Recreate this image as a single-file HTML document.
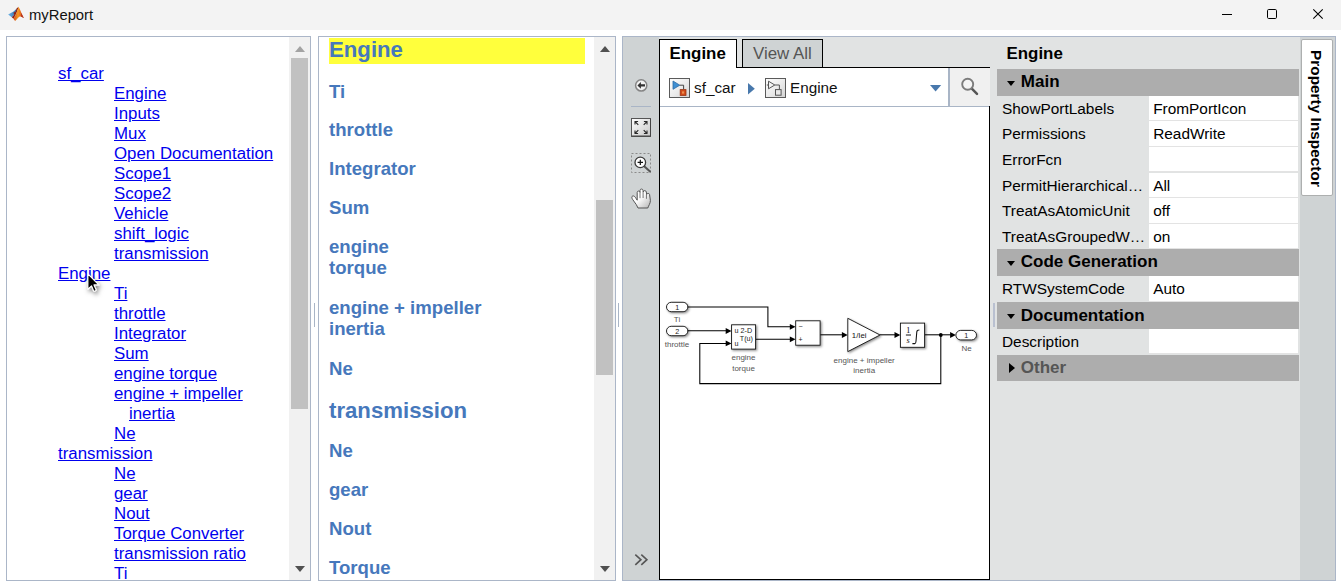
<!DOCTYPE html>
<html lang="en">
<head>
<meta charset="utf-8">
<title>myReport</title>
<style>
html,body{margin:0;padding:0;}
body{width:1341px;height:585px;overflow:hidden;background:#fff;position:relative;
  font-family:"Liberation Sans",sans-serif;color:#000;}
.abs{position:absolute;}
#titlebar{left:0;top:0;width:1341px;height:30px;background:#f3f3f3;}
#title{left:29px;top:5px;font-size:14.8px;line-height:20px;color:#111;white-space:nowrap;}
.panel{box-sizing:border-box;border:1px solid #abb6c8;background:#fff;overflow:hidden;}
#left{left:6px;top:36px;width:305px;height:545px;}
#mid{left:318px;top:36px;width:298px;height:545px;}
#right{left:622px;top:36px;width:714px;height:545px;background:#e1e3e3;}
.track{position:absolute;top:0;width:21px;height:543px;background:#f1f1f1;}
.thumb{position:absolute;left:2px;width:17px;background:#c1c1c1;}
.arr{position:absolute;left:5.6px;width:0;height:0;border-left:5.5px solid transparent;border-right:5.5px solid transparent;}
.arr.up{top:8.8px;border-bottom:6px solid #505050;}
.arr.dn{bottom:8.3px;border-top:6px solid #505050;}
/* left toc */
#toc{position:absolute;left:0;top:27.4px;font-size:16.85px;line-height:20px;white-space:nowrap;}
#toc div{height:20px;}
#toc a{color:#0000ee;text-decoration:underline;}
#toc .l1{padding-left:51px;}
#toc .l2{padding-left:107px;}
#toc .l3{padding-left:122px;}
/* mid headings */
#mid .h{position:absolute;left:10px;color:#4678bc;font-weight:bold;white-space:nowrap;}
#mid .h1{font-size:22.2px;line-height:26px;}
#mid .h3{font-size:18.6px;line-height:21.25px;}
.split{position:absolute;width:1px;height:24px;top:303px;background:#a9b5c6;}

/* right panel: coordinates relative to panel padding box (page x-623, y-37) */
#tools{left:0;top:0;width:36px;height:543px;background:#cfd3d4;}
#canvas{left:36px;top:30px;width:331px;height:513px;box-sizing:border-box;border:1px solid #000;background:#fff;}
.tab{box-sizing:border-box;border:1px solid #000;border-bottom:none;font-size:16.9px;line-height:20px;white-space:nowrap;}
#tab1{left:36px;top:2px;width:78px;height:29px;background:#fff;font-weight:bold;color:#000;padding:4px 0 0 9.5px;}
#tab2{left:119px;top:2px;width:81px;height:28px;background:#cfd3d4;color:#555;padding:4px 0 0 10px;}
#crumb{left:37px;top:31px;width:329px;height:38px;border-bottom:1px solid #a9b5c6;background:#fff;}
#crumb .t{position:absolute;font-size:15.3px;line-height:20px;top:9.5px;color:#111;white-space:nowrap;}
.ico{position:absolute;box-sizing:border-box;border:1px solid #5a5a5a;background:linear-gradient(135deg,#fdfdfd 0%,#ececec 50%,#d4d4d4 100%);}
#searchbtn{left:288px;top:0;width:40px;height:38px;background:#f0f0f0;border-left:2px solid #a9b5c6;box-sizing:content-box;}
/* inspector */
#insp{left:367px;top:0;width:310px;height:543px;background:#e1e3e3;}
#insp .ttl{position:absolute;left:16.5px;top:6.5px;font-size:16.9px;line-height:20px;font-weight:bold;}
#insp .hd{position:absolute;left:7px;width:302px;height:26.7px;background:#adadad;font-weight:bold;font-size:17px;line-height:26.7px;white-space:nowrap;}
#insp .hd span{position:absolute;left:23.8px;top:0px;}
#insp .hd i{position:absolute;left:9.8px;top:11.5px;width:0;height:0;border-left:4.7px solid transparent;border-right:4.7px solid transparent;border-top:5.1px solid #000;}
#insp .hd i.r{left:11.8px;top:8.3px;border-top:5px solid transparent;border-bottom:5px solid transparent;border-left:6px solid #000;border-right:none;}
#insp .row{position:absolute;left:7px;width:301px;height:25.6px;font-size:15.4px;line-height:25.6px;white-space:nowrap;}
#insp .row .k{position:absolute;left:5px;top:0;}
#insp .row .v{position:absolute;left:152px;top:0;width:149px;height:25.6px;background:#fff;box-sizing:border-box;border-bottom:1px solid #e3e3e3;padding-left:4.2px;}
#vstrip{left:677px;top:0;width:35px;height:543px;background:#cfd3d4;}
#vtab{left:1px;top:2px;width:32px;height:157px;box-sizing:border-box;border:1px solid #adafaf;border-radius:2px;background:#fff;}
#vtab span{position:absolute;left:0;top:0;writing-mode:vertical-rl;font-weight:bold;font-size:15.3px;line-height:29px;width:29px;left:0px;padding-top:9.5px;letter-spacing:0.05px;white-space:nowrap;}
</style>
</head>
<body>
<div id="titlebar" class="abs"></div>
<div id="title" class="abs">myReport</div>

<!-- LEFT PANEL -->
<div id="left" class="abs panel">
  <div id="toc">
    <div class="l1"><a href="#">sf_car</a></div>
    <div class="l2"><a href="#">Engine</a></div>
    <div class="l2"><a href="#">Inputs</a></div>
    <div class="l2"><a href="#">Mux</a></div>
    <div class="l2"><a href="#">Open Documentation</a></div>
    <div class="l2"><a href="#">Scope1</a></div>
    <div class="l2"><a href="#">Scope2</a></div>
    <div class="l2"><a href="#">Vehicle</a></div>
    <div class="l2"><a href="#">shift_logic</a></div>
    <div class="l2"><a href="#">transmission</a></div>
    <div class="l1"><a href="#">Engine</a></div>
    <div class="l2"><a href="#">Ti</a></div>
    <div class="l2"><a href="#">throttle</a></div>
    <div class="l2"><a href="#">Integrator</a></div>
    <div class="l2"><a href="#">Sum</a></div>
    <div class="l2"><a href="#">engine torque</a></div>
    <div class="l2"><a href="#">engine + impeller</a></div>
    <div class="l3"><a href="#">inertia</a></div>
    <div class="l2"><a href="#">Ne</a></div>
    <div class="l1"><a href="#">transmission</a></div>
    <div class="l2"><a href="#">Ne</a></div>
    <div class="l2"><a href="#">gear</a></div>
    <div class="l2"><a href="#">Nout</a></div>
    <div class="l2"><a href="#">Torque Converter</a></div>
    <div class="l2"><a href="#">transmission ratio</a></div>
    <div class="l2"><a href="#">Ti</a></div>
  </div>
  <div class="track" style="left:282px;">
    <div class="arr up" style="border-bottom-color:#a3a3a3;"></div>
    <div class="thumb" style="top:21px;height:351px;"></div>
    <div class="arr dn"></div>
  </div>
</div>

<!-- MIDDLE PANEL -->
<div id="mid" class="abs panel">
  <div class="abs" style="left:10px;top:1px;width:256px;height:26px;background:#ffff3c;"></div>
  <div class="h h1" style="top:0.4px;">Engine</div>
  <div class="h h3" style="top:44.3px;">Ti</div>
  <div class="h h3" style="top:82px;">throttle</div>
  <div class="h h3" style="top:120.7px;">Integrator</div>
  <div class="h h3" style="top:160.4px;">Sum</div>
  <div class="h h3" style="top:199.1px;">engine<br>torque</div>
  <div class="h h3" style="top:260px;">engine + impeller<br>inertia</div>
  <div class="h h3" style="top:321.4px;">Ne</div>
  <div class="h h1" style="top:360.6px;">transmission</div>
  <div class="h h3" style="top:403px;">Ne</div>
  <div class="h h3" style="top:442px;">gear</div>
  <div class="h h3" style="top:481px;">Nout</div>
  <div class="h h3" style="top:520px;">Torque</div>
  <div class="track" style="left:275px;">
    <div class="arr up"></div>
    <div class="thumb" style="top:163px;height:175px;"></div>
    <div class="arr dn"></div>
  </div>
</div>

<div class="split" style="left:314px;"></div>
<div class="split" style="left:618px;"></div>
<div class="split" style="left:993px;top:303px;width:2px;background:#b9c0d0;z-index:5;"></div>

<!-- RIGHT PANEL -->
<div id="right" class="abs panel">
  <div id="tools" class="abs"></div>
  <div id="canvas" class="abs"></div>
  <div id="tab1" class="abs tab">Engine</div>
  <div id="tab2" class="abs tab">View All</div>
  <div id="crumb" class="abs">
    <div class="ico" style="left:9px;top:10px;width:21px;height:20px;"></div>
    <div class="t" style="left:34px;">sf_car</div>
    <div class="ico" style="left:105px;top:10px;width:21px;height:20px;"></div>
    <div class="t" style="left:130px;">Engine</div>
    <div id="searchbtn" class="abs"></div>
  </div>
  <div id="insp" class="abs">
    <div class="ttl">Engine</div>
    <div class="hd" style="top:32px;"><i></i><span>Main</span></div>
    <div class="row" style="top:58.7px;"><div class="k">ShowPortLabels</div><div class="v">FromPortIcon</div></div>
    <div class="row" style="top:84.3px;"><div class="k">Permissions</div><div class="v">ReadWrite</div></div>
    <div class="row" style="top:109.9px;"><div class="k">ErrorFcn</div><div class="v"></div></div>
    <div class="row" style="top:135.5px;"><div class="k">PermitHierarchical…</div><div class="v">All</div></div>
    <div class="row" style="top:161.1px;"><div class="k">TreatAsAtomicUnit</div><div class="v">off</div></div>
    <div class="row" style="top:186.7px;"><div class="k">TreatAsGroupedW…</div><div class="v">on</div></div>
    <div class="hd" style="top:212.3px;"><i></i><span>Code Generation</span></div>
    <div class="row" style="top:239px;"><div class="k">RTWSystemCode</div><div class="v">Auto</div></div>
    <div class="hd" style="top:265.4px;"><i></i><span style="top:0.8px;">Documentation</span></div>
    <div class="row" style="top:291.6px;"><div class="k">Description</div><div class="v"></div></div>
    <div class="hd" style="top:317.6px;"><i class="r"></i><span style="color:#555;">Other</span></div>
  </div>
  <div id="vstrip" class="abs"><div id="vtab" class="abs"><span>Property Inspector</span></div></div>
</div>

<!-- ICONS + DIAGRAM OVERLAY (page coordinates) -->
<svg class="abs" style="left:0;top:0;pointer-events:none;" width="1341" height="585" viewBox="0 0 1341 585" font-family="Liberation Sans, sans-serif">
  <defs>
    <linearGradient id="gOr" x1="0" y1="0.5" x2="1" y2="0.5"><stop offset="0" stop-color="#d24a1a"/><stop offset="0.45" stop-color="#f59a22"/><stop offset="0.75" stop-color="#e2601f"/><stop offset="1" stop-color="#c03a1c"/></linearGradient>
    <linearGradient id="gBl" x1="0" y1="0" x2="1" y2="0"><stop offset="0" stop-color="#6fb4e6"/><stop offset="1" stop-color="#2f6eac"/></linearGradient>
    <linearGradient id="gBtn" x1="0" y1="0" x2="1" y2="1"><stop offset="0" stop-color="#ffffff"/><stop offset="1" stop-color="#c8c8c8"/></linearGradient>
    <linearGradient id="gHand" x1="0" y1="0" x2="1" y2="1"><stop offset="0.45" stop-color="#ffffff"/><stop offset="1" stop-color="#b4b4b4"/></linearGradient>
    <filter id="sh" x="-20%" y="-20%" width="150%" height="150%"><feDropShadow dx="1.2" dy="1.2" stdDeviation="1.1" flood-color="#000" flood-opacity="0.45"/></filter>
    <filter id="csh" x="-50%" y="-50%" width="250%" height="250%"><feDropShadow dx="1.5" dy="2.5" stdDeviation="2" flood-color="#000" flood-opacity="0.5"/></filter>
  </defs>

  <!-- title bar icon -->
  <g>
    <path d="M8.1,14.4 L13.6,11.6 L16.8,8.4 L15.9,11.5 L14,15 L11.8,17.3 Z" fill="url(#gBl)"/>
    <path d="M18.55,6.8 L16.6,8.6 L15.6,11.6 C14.6,12.4 14,12.6 13.4,12.6 L14.2,14.8 L11.8,17.3 L13.4,18.7 C15.5,16 17.5,11 18.55,6.8 Z" fill="#8c2418"/>
    <path d="M18.55,6.8 C17.5,11 15.5,16 13.4,18.7 L15.1,21 C16.5,19.6 18,17.5 19.6,16.4 C21,16.3 22.5,17 23.9,17.9 C23.2,16.9 22.4,15.4 21.6,13.5 C20.6,11 19.6,8.5 18.55,6.8 Z" fill="url(#gOr)"/>
    <path d="M21.3,12.8 C22.2,15 23.1,16.8 23.9,17.9 C22.9,17.3 21.9,16.7 20.8,16.4 Z" fill="#b8361d"/>
  </g>
  <!-- window controls -->
  <g stroke="#000" stroke-width="1" fill="none">
    <path d="M1222,14.5 H1232"/>
    <rect x="1267.5" y="9.5" width="9" height="9" rx="1.2"/>
    <path d="M1313.3,9.3 L1322.7,18.7 M1322.7,9.3 L1313.3,18.7" stroke-width="1.1"/>
  </g>

  <!-- left toolbar -->
  <g>
    <circle cx="641.2" cy="85.4" r="5.6" fill="#f2f2f2" stroke="#858585" stroke-width="1.5"/>
    <path d="M637.4,85.4 L640.9,82.1 V84.3 H645 V86.5 H640.9 V88.7 Z" fill="#333"/>
    <path d="M631,106.5 H651" stroke="#a9b5c6" stroke-width="1"/>
    <rect x="631.5" y="118.5" width="19" height="18" fill="url(#gBtn)" stroke="#555" stroke-width="1"/>
    <path d="M632,136 H650.5 V119" fill="none" stroke="#444" stroke-width="1"/>
    <g stroke="#2a2a2a" stroke-width="1.1" fill="none">
      <path d="M638.3,124.8 L635,121.5 M635,124.6 V121.5 H638.1"/>
      <path d="M643.7,124.8 L647,121.5 M647,124.6 V121.5 H643.9"/>
      <path d="M638.3,130.2 L635,133.5 M635,130.4 V133.5 H638.1"/>
      <path d="M643.7,130.2 L647,133.5 M647,130.4 V133.5 H643.9"/>
    </g>
    <rect x="631.5" y="153.5" width="19" height="19" fill="none" stroke="#8a8a8a" stroke-width="1" stroke-dasharray="2 2"/>
    <path d="M644.2,166.2 L650,171.6" stroke="#555" stroke-width="2" stroke-linecap="round"/>
    <circle cx="640.3" cy="162.4" r="5.3" fill="#fff" stroke="#3a3a3a" stroke-width="1.3"/>
    <path d="M637.6,162.4 H643 M640.3,159.7 V165.1" stroke="#111" stroke-width="1.2"/>
    <path d="M638,208 L636.3,204.6 L632.6,199.4 C631.6,197.8 631.6,196.4 632.7,196 C633.8,195.6 635,196.6 636,198.4 L637.2,200.2 L637.2,192.4 C637.2,190.6 640,190.6 640,192.4 L640,190.4 C640,188.6 643,188.6 643,190.4 L643.2,192 C643.2,190.1 646.3,190.2 646.3,192 L646.6,194.6 C646.7,192.9 649.6,193 649.6,194.8 L650.4,200.5 C650.4,203.5 648.6,205.5 647.8,208 Z" fill="url(#gHand)" stroke="#555" stroke-width="1" stroke-linejoin="round"/>
    <path d="M640,192.4 V198.2 M643.1,192 V198 M646.45,194.6 V198.8" stroke="#666" stroke-width="0.9" fill="none"/>
    <path d="M635.3,554.6 L640.9,559.7 L635.3,564.8 M641.3,554.6 L646.9,559.7 L641.3,564.8" fill="none" stroke="#555" stroke-width="1.6"/>
  </g>

  <!-- breadcrumb icons -->
  <g>
    <path d="M673,81 V89.3 L679.8,85.2 Z" fill="#3f8fd2" stroke="#2c69a5" stroke-width="0.8"/>
    <path d="M679.8,85.2 H683.6 V89.2" fill="none" stroke="#444" stroke-width="1"/>
    <rect x="680.2" y="89.6" width="5.8" height="5.8" fill="#d04a1a" stroke="#9a3412" stroke-width="0.8"/>
    <rect x="682" y="91.4" width="2.2" height="2.2" fill="#ee9050"/>
    <path d="M748,83 V94.6 L754.8,88.8 Z" fill="#4878ac"/>
    <path d="M766.8,85 H768.5 M768.5,81.2 V88.8 L774.8,85 Z M774.8,85 H779.4 V89.5" fill="none" stroke="#555" stroke-width="1"/>
    <rect x="775.5" y="89.6" width="5.6" height="5.6" fill="#e9e9e9" stroke="#555" stroke-width="1"/>
    <path d="M930,85 H941.2 L935.6,91.6 Z" fill="#4878ac"/>
    <path d="M971.8,88.6 L977,93.8" stroke="#555" stroke-width="2.5" stroke-linecap="round"/>
    <circle cx="967.7" cy="84.2" r="5.5" fill="#f4f4f4" stroke="#7c7c7c" stroke-width="1.9"/>
  </g>

  <!-- Simulink diagram -->
  <g font-size="7.2" fill="#222">
    <g fill="none" stroke="#000" stroke-width="1.05">
      <path d="M688,306.9 H767.9 V326.8 H790.5"/>
      <path d="M688,330.8 H726.5"/>
      <path d="M755.6,339.3 H790.5"/>
      <path d="M820.2,334.8 H842.5"/>
      <path d="M880,334.8 H895.3"/>
      <path d="M924.7,334.8 H950.8"/>
      <path d="M940.8,335 V383.6 H699.8 V343.4 H726.5"/>
    </g>
    <g fill="#000">
      <path d="M795.6,326.8 L789.8,323.9 V329.7 Z"/>
      <path d="M731.5,331 L725.7,328.1 V333.9 Z"/>
      <path d="M731.5,343.4 L725.7,340.5 V346.3 Z"/>
      <path d="M795.6,339.3 L789.8,336.4 V342.2 Z"/>
      <path d="M847.7,335 L841.9,332.1 V337.9 Z"/>
      <path d="M900.3,335 L894.5,332.1 V337.9 Z"/>
      <path d="M955.9,335 L950.1,332.1 V337.9 Z"/>
      <circle cx="940.8" cy="335" r="1.9"/>
    </g>
    <g fill="#fff" stroke="#111" stroke-width="0.9" filter="url(#sh)">
      <rect x="666.5" y="302.3" width="21.3" height="9.4" rx="4.7"/>
      <rect x="666.5" y="326.3" width="21.3" height="9.4" rx="4.7"/>
      <rect x="731.6" y="324.8" width="24" height="24.3"/>
      <rect x="795.7" y="320.8" width="24.4" height="24.4"/>
      <path d="M847.8,318.3 V351.6 L880,335 Z"/>
      <rect x="900.4" y="323.1" width="24.2" height="24.2"/>
      <rect x="955.9" y="330.4" width="20.6" height="9.5" rx="4.75"/>
    </g>
    <text x="677.2" y="309.7" text-anchor="middle">1</text>
    <text x="677.2" y="333.7" text-anchor="middle">2</text>
    <text x="966.3" y="337.8" text-anchor="middle">1</text>
    <text x="734.4" y="333.3">u</text><text x="740.6" y="333.3">2-D</text>
    <text x="739.8" y="340.9">T(u)</text>
    <text x="734.4" y="345.9">u</text>
    <text x="798.6" y="329.3" font-size="7">−</text>
    <text x="798.6" y="341.6" font-size="7">+</text>
    <text x="851.8" y="337.9" font-size="7.8" fill="#111">1/Iei</text>
    <g font-family="Liberation Serif, serif" font-size="8">
      <text x="906.3" y="332.7" fill="#000">1</text>
      <text x="906.6" y="343.3" font-style="italic" font-size="8.4" fill="#222">s</text>
    </g>
    <path d="M905.9,335 H911" stroke="#111" stroke-width="1"/>
    <path d="M912.4,343.6 H914.9 C915.8,343.6 915.9,342.6 916,341.2 L916.8,331.9 C916.9,330.5 917.4,330 919.4,330" fill="none" stroke="#111" stroke-width="1.05"/>
    <g fill="#555" font-size="8" text-anchor="middle">
      <text x="677" y="321.6">Ti</text>
      <text x="677" y="347.4">throttle</text>
      <text x="743.5" y="360.1">engine</text>
      <text x="743.5" y="370.5">torque</text>
      <text x="864.2" y="362.8">engine + impeller</text>
      <text x="864.2" y="372.5">inertia</text>
      <text x="966.6" y="350.8">Ne</text>
    </g>
  </g>

  <!-- mouse cursor -->
  <path d="M87.9,273.8 V289.2 L91.5,285.8 L93.9,291.4 L96.3,290.3 L93.9,284.9 L98.8,284.9 Z" fill="#000" stroke="#fff" stroke-width="1.1" stroke-linejoin="round" filter="url(#csh)"/>
</svg>

</body>
</html>
